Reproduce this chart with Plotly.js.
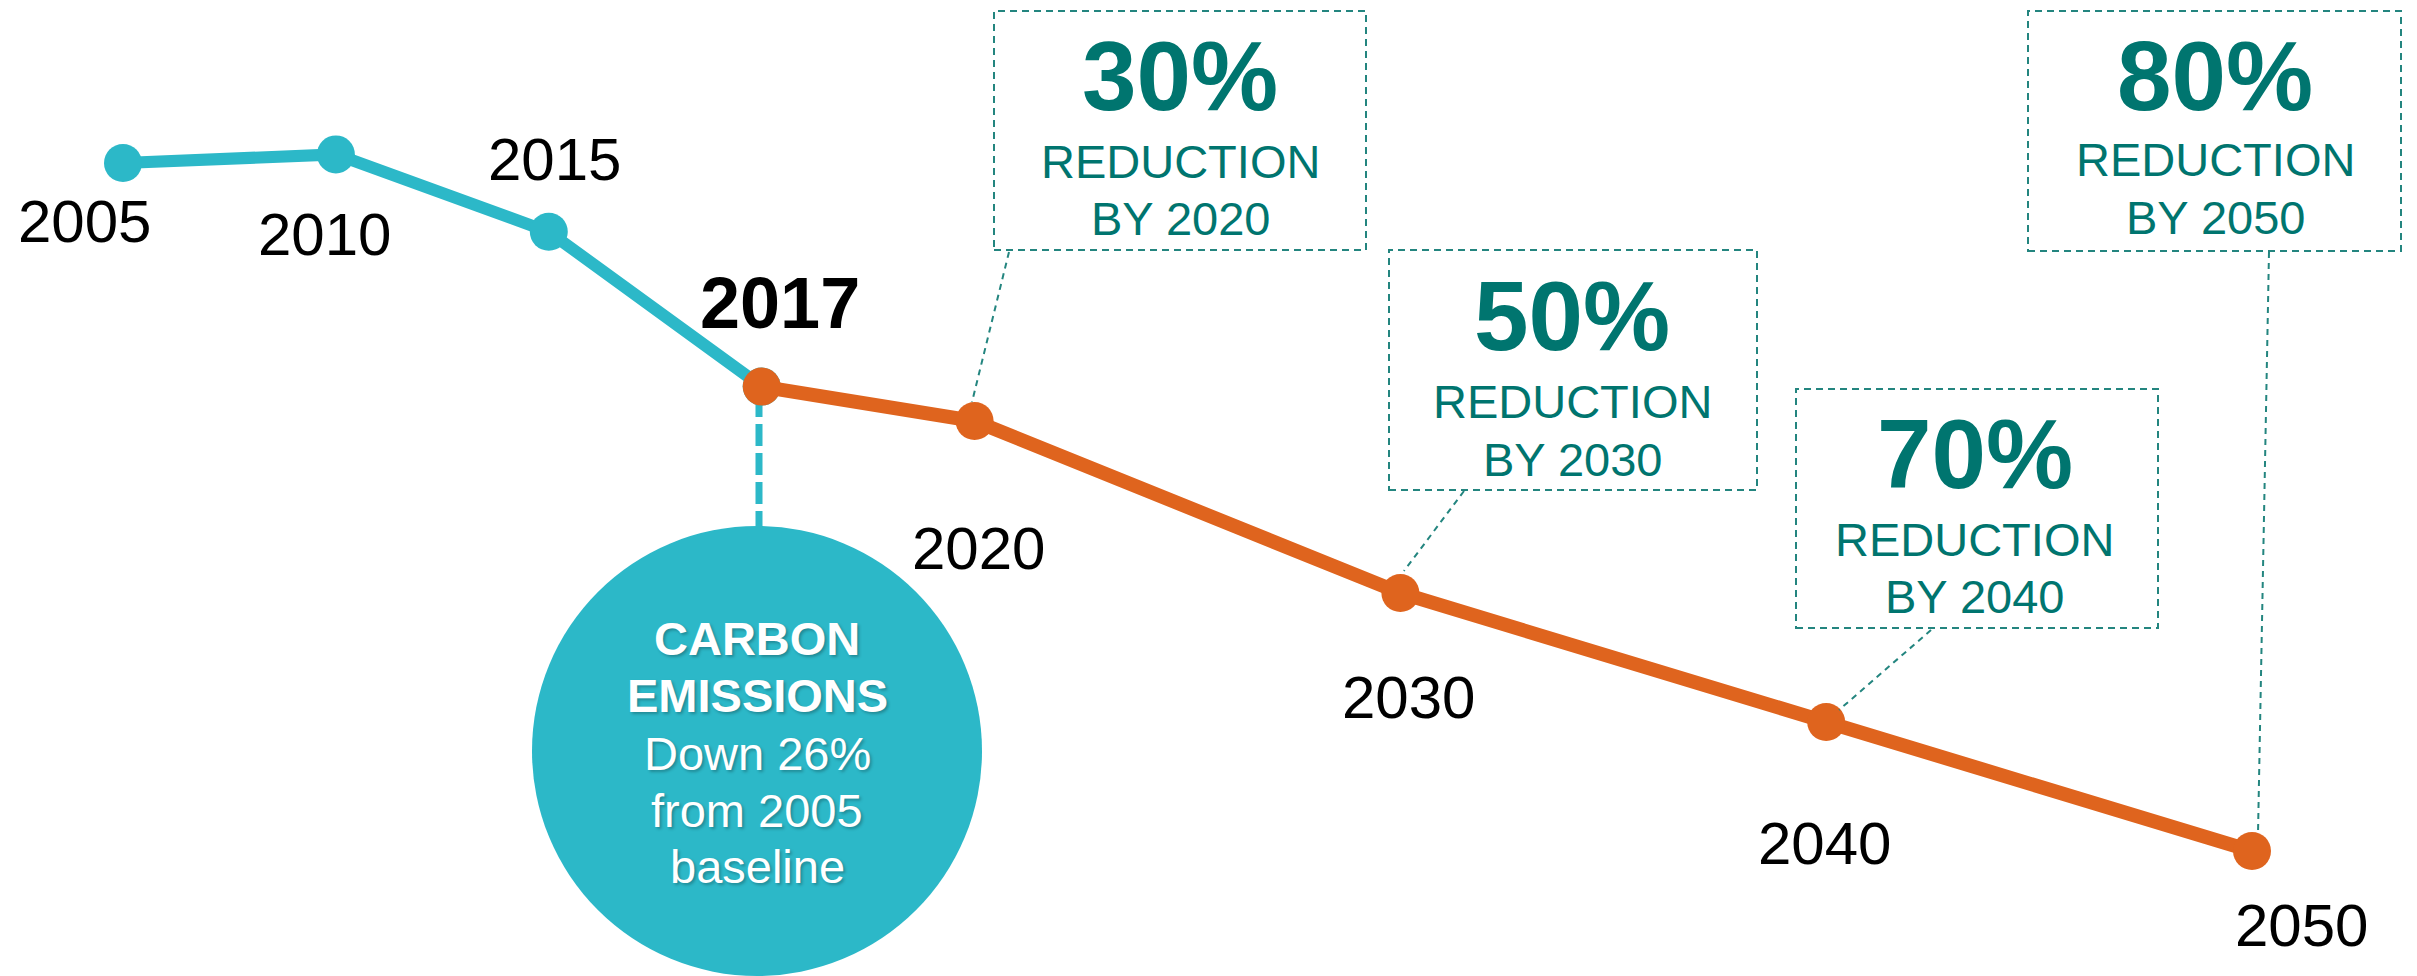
<!DOCTYPE html>
<html>
<head>
<meta charset="utf-8">
<script src="https://cdn.plot.ly/plotly-3.0.1.min.js"></script>
<style>
  html, body { margin: 0; padding: 0; background: #ffffff; }
  #chart { width: 2417px; height: 976px; }
</style>
</head>
<body>
<div id="chart"></div>
<script>
// ---- data ----
const axisSlots = ["2005","2010","2015","2017","2020","2025","2030","2035","2040","2045","2050"];
const histYears = ["2005","2010","2015","2017"];
const histValues = [100, 101, 92, 74];
const goalYears = ["2017","2020","2030","2040","2050"];
const goalValues = [74, 70, 50, 35, 20];
const targetPercents = ["30%","50%","70%","80%"];
const targetYears = ["2020","2030","2040","2050"];
const calloutLines = ["CARBON", "EMISSIONS", "Down 26%", "from 2005", "baseline"];

// ---- styling / layout helpers ----
const W = 2417, H = 976;
const TEAL = "#2cb8c8";
const ORANGE = "#df641e";
const DARK = "#00756f";
const BOX = "#23857f";
const FONT = "Liberation Sans, Arial, sans-serif";
const px = x => x / W;
const py = y => 1 - y / H;

const traces = [
  {
    x: histYears, y: histValues, type: "scatter", mode: "lines+markers",
    line: { color: TEAL, width: 12 },
    marker: { color: TEAL, size: 38 },
    hoverinfo: "skip", cliponaxis: false
  },
  {
    x: goalYears, y: goalValues, type: "scatter", mode: "lines+markers",
    line: { color: ORANGE, width: 14 },
    marker: { color: ORANGE, size: 38 },
    hoverinfo: "skip", cliponaxis: false
  }
];

const annotations = [];
// year labels next to points (offsets in px)
const allYears = histYears.concat(goalYears.slice(1));
const allValues = histValues.concat(goalValues.slice(1));
const labelShift = [[-38,-58],[-11,-80],[6,72],[18,84],[4,-127],[8,-104],[-2,-121],[49,-74]];
allYears.forEach((yr, i) => {
  const bold = yr === "2017";
  annotations.push({
    x: axisSlots.indexOf(yr), y: allValues[i], xref: "x", yref: "y",
    text: bold ? "<b>" + yr + "</b>" : yr,
    showarrow: false, xanchor: "center", yanchor: "middle",
    xshift: labelShift[i][0], yshift: labelShift[i][1],
    font: { family: FONT, size: bold ? 72 : 60, color: "#000000" }
  });
});

// target boxes
const boxes = [
  { x0: 994, x1: 1366, y0: 11, y1: 250, cx: 1180, ly: [76, 161, 218], lead: [1009, 252, 972, 402] },
  { x0: 1389, x1: 1757, y0: 250, y1: 490, cx: 1572, ly: [316, 401, 459], lead: [1464, 491, 1404, 571] },
  { x0: 1796, x1: 2158, y0: 389, y1: 628, cx: 1975, ly: [454, 539, 596], lead: [1931, 630, 1839, 710] },
  { x0: 2028, x1: 2401, y0: 11, y1: 251, cx: 2215, ly: [76, 160, 217], lead: [2269, 252, 2258, 834] }
];
const shapes = [];
boxes.forEach((b, i) => {
  shapes.push({
    type: "rect", xref: "paper", yref: "paper",
    x0: px(b.x0), x1: px(b.x1), y0: py(b.y1), y1: py(b.y0),
    line: { color: BOX, width: 2, dash: "7px,5px" }, fillcolor: "rgba(0,0,0,0)"
  });
  shapes.push({
    type: "line", xref: "paper", yref: "paper",
    x0: px(b.lead[0]), y0: py(b.lead[1]), x1: px(b.lead[2]), y1: py(b.lead[3]),
    line: { color: BOX, width: 2, dash: "6px,5px" }
  });
  const texts = ["<b>" + targetPercents[i] + "</b>", "REDUCTION", "BY " + targetYears[i]];
  const sizes = [98, 47, 47];
  texts.forEach((t, k) => {
    annotations.push({
      x: px(b.cx), y: py(b.ly[k]), xref: "paper", yref: "paper",
      text: t, showarrow: false, xanchor: "center", yanchor: "middle",
      font: { family: FONT, size: sizes[k], color: DARK }
    });
  });
});

// callout circle + dashed connector from 2017
const cc = { x: 757, y: 751, r: 225 };
shapes.push({
  type: "line", xref: "paper", yref: "paper", layer: "below",
  x0: px(759), x1: px(759), y0: py(395), y1: py(cc.y - cc.r),
  line: { color: TEAL, width: 7, dash: "22px,7px" }
});
shapes.push({
  type: "circle", xref: "paper", yref: "paper", layer: "below",
  x0: px(cc.x - cc.r), x1: px(cc.x + cc.r), y0: py(cc.y + cc.r), y1: py(cc.y - cc.r),
  fillcolor: TEAL, line: { width: 0 }
});
const circleY = [638, 695, 753, 810, 866];
calloutLines.forEach((t, k) => {
  annotations.push({
    x: px(cc.x), y: py(circleY[k]), xref: "paper", yref: "paper",
    text: k < 2 ? "<b>" + t + "</b>" : t,
    showarrow: false, xanchor: "center", yanchor: "middle",
    font: { family: FONT, size: 47, color: "#ffffff", shadow: "2px 2px 3px rgba(0,0,0,0.25)" }
  });
});

const layout = {
  width: W, height: H,
  margin: { l: 0, r: 0, t: 0, b: 0, pad: 0 },
  paper_bgcolor: "#ffffff", plot_bgcolor: "#ffffff",
  showlegend: false,
  xaxis: {
    type: "category", categoryorder: "array", categoryarray: axisSlots,
    range: [-0.5777, 10.775], visible: false, fixedrange: true
  },
  yaxis: { range: [5.465, 118.953], visible: false, fixedrange: true },
  shapes: shapes,
  annotations: annotations
};

Plotly.newPlot("chart", traces, layout, { staticPlot: true, displayModeBar: false });
</script>
</body>
</html>
